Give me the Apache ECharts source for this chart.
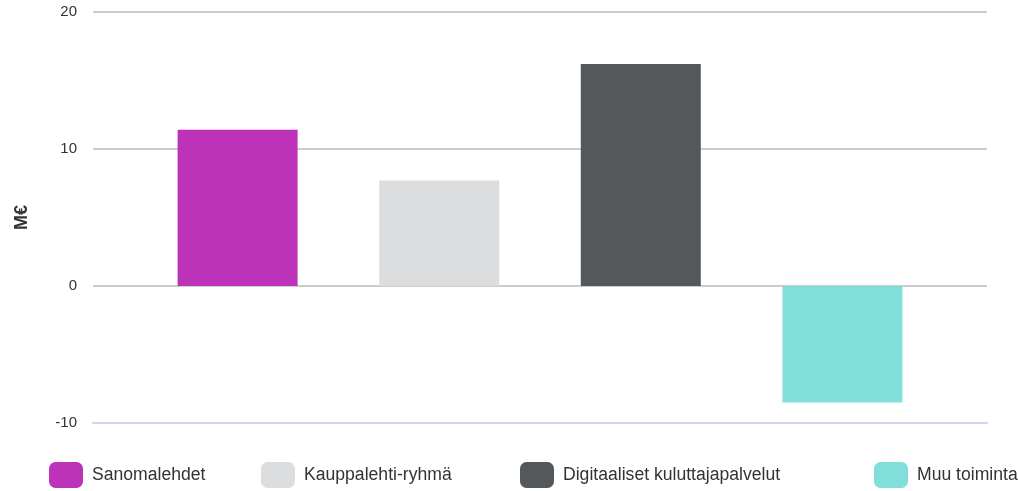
<!DOCTYPE html>
<html>
<head>
<meta charset="utf-8">
<script src="https://cdn.jsdelivr.net/npm/echarts@6/dist/echarts.min.js"></script>
<style>html,body{margin:0;padding:0;background:#fff}#c{width:1018px;height:491px}</style>
</head>
<body>
<div id="c"></div>
<script>
const seriesNames = ['Sanomalehdet', 'Kauppalehti-ryhmä', 'Digitaaliset kuluttajapalvelut', 'Muu toiminta'];
const seriesValues = [11.4, 7.7, 16.2, -8.5];
const seriesColors = ['#bc33b9', '#dcddde', '#54585a', '#80dedb'];
const category = [''];
const yTicks = { min: -10, max: 20, interval: 10 };
const yTitle = 'M€';
const legendLefts = [49, 261, 520, 874];

const chart = echarts.init(document.getElementById('c'), null, { renderer: 'canvas' });
const font = 'Liberation Sans, Arial, sans-serif';
chart.setOption({
  animation: false,
  textStyle: { fontFamily: font },
  grid: { left: 93, right: 31, top: 12, bottom: 68 },
  legend: seriesNames.map((n, i) => ({
    data: [n],
    left: legendLefts[i],
    top: 462,
    padding: 0,
    icon: 'roundRect',
    itemWidth: 34,
    itemHeight: 26,
    selectedMode: false,
    textStyle: { fontSize: 17.6, color: '#333', fontFamily: font, padding: [0, 0, 0, 4] }
  })),
  xAxis: {
    type: 'category',
    data: category,
    axisLine: { show: true, onZero: false, lineStyle: { color: '#ccd6eb', width: 2 } },
    axisTick: { show: false },
    axisLabel: { show: false }
  },
  yAxis: {
    type: 'value',
    min: yTicks.min,
    max: yTicks.max,
    interval: yTicks.interval,
    name: yTitle,
    nameLocation: 'middle',
    nameGap: 62,
    nameRotate: 90,
    nameTextStyle: { fontSize: 18, fontWeight: 'bold', color: '#333', fontFamily: font },
    axisLine: { show: false },
    axisTick: { show: false },
    axisLabel: { fontSize: 15, color: '#333', margin: 16, fontFamily: font },
    splitLine: { lineStyle: { color: '#cccccc', width: 2 } }
  },
  series: seriesNames.map((n, i) => ({
    name: n,
    type: 'bar',
    data: [seriesValues[i]],
    barWidth: 120,
    barGap: '68%',
    itemStyle: { color: seriesColors[i], borderWidth: 0 }
  }))
});
</script>
</body>
</html>
